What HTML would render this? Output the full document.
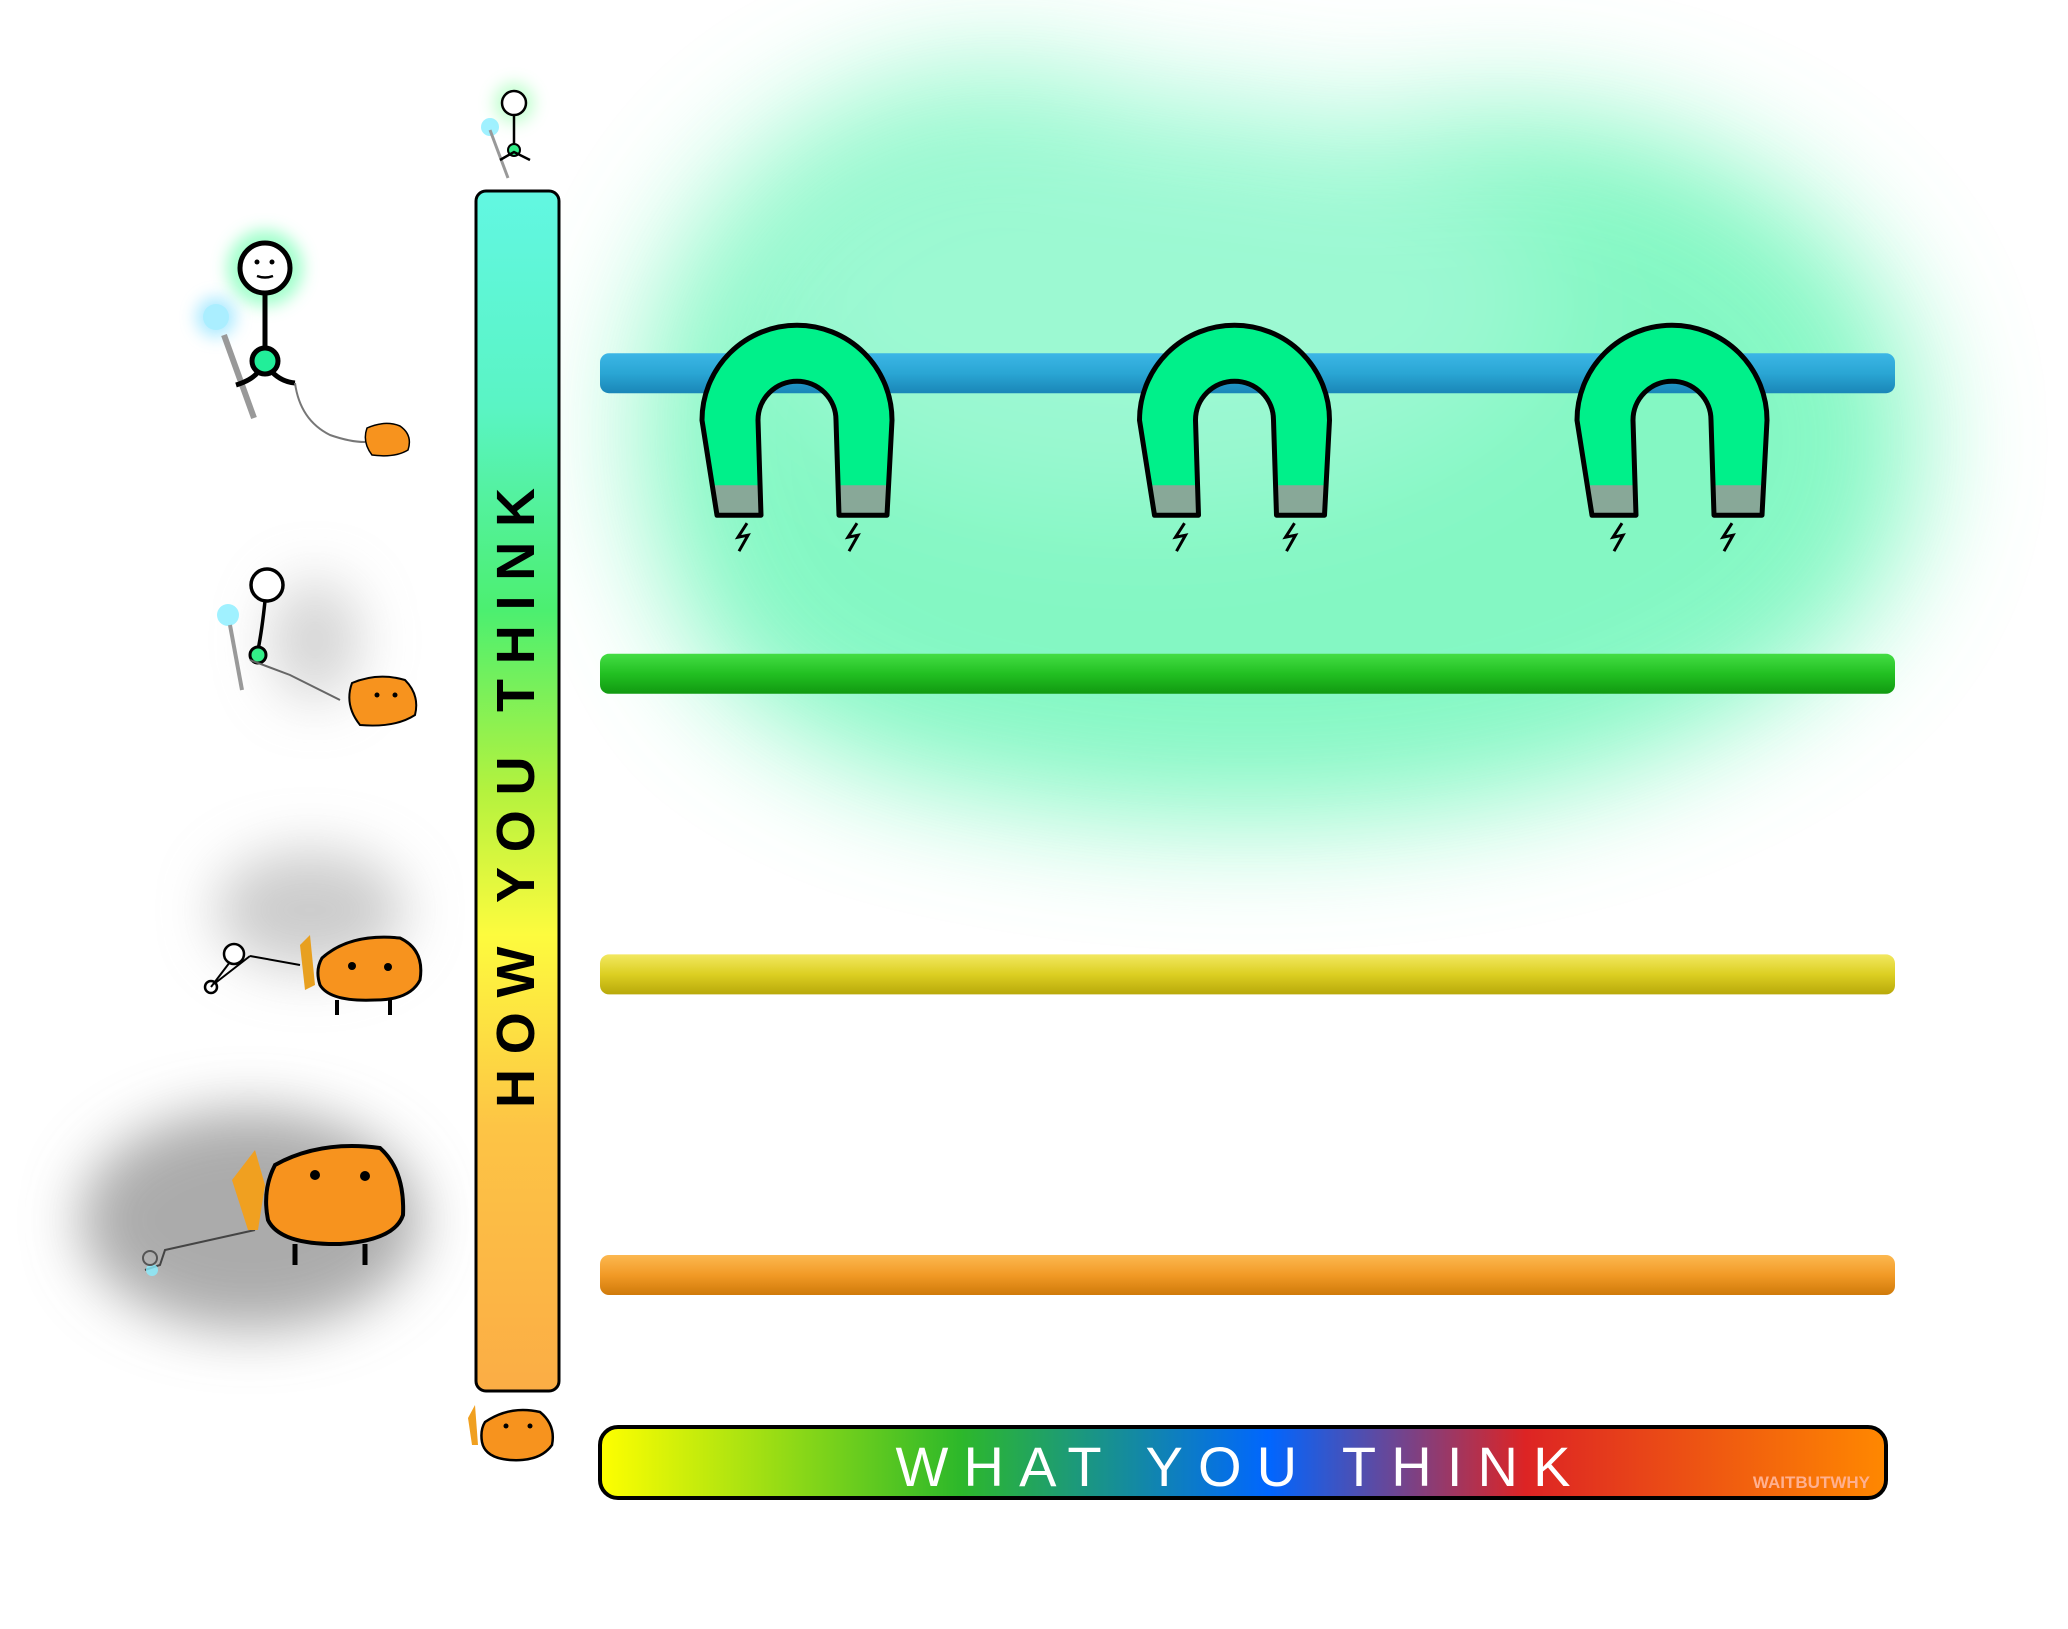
<!DOCTYPE html>
<html><head><meta charset="utf-8">
<style>
html,body{margin:0;padding:0;background:#fff;}
svg{display:block;}
text{font-family:"Liberation Sans",sans-serif;}
</style></head>
<body>
<svg id="chart" width="2068" height="1629" viewBox="0 0 2068 1629" xmlns="http://www.w3.org/2000/svg">
<defs>
  <filter id="blurBig" x="-50%" y="-50%" width="200%" height="200%"><feGaussianBlur stdDeviation="60"/></filter>
  <filter id="blurMid" x="-50%" y="-50%" width="200%" height="200%"><feGaussianBlur stdDeviation="28"/></filter>
  <filter id="blurSm" x="-50%" y="-50%" width="200%" height="200%"><feGaussianBlur stdDeviation="8"/></filter>
  <linearGradient id="vGrad" x1="0" y1="0" x2="0" y2="1">
    <stop offset="0" stop-color="#62f7e2"/>
    <stop offset="0.18" stop-color="#5af4c4"/>
    <stop offset="0.35" stop-color="#4cef70"/>
    <stop offset="0.5" stop-color="#b4f23e"/>
    <stop offset="0.62" stop-color="#fdfb3e"/>
    <stop offset="0.78" stop-color="#fdc445"/>
    <stop offset="1" stop-color="#fbad45"/>
  </linearGradient>
  <linearGradient id="hGrad" x1="0" y1="0" x2="1" y2="0">
    <stop offset="0" stop-color="#ffff00"/>
    <stop offset="0.28" stop-color="#2db82a"/>
    <stop offset="0.52" stop-color="#0066ff"/>
    <stop offset="0.72" stop-color="#dd2424"/>
    <stop offset="1" stop-color="#ff8800"/>
  </linearGradient>
  <linearGradient id="g-blue" x1="0" y1="0" x2="0" y2="1"><stop offset="0" stop-color="#3cb6e6"/><stop offset="0.5" stop-color="#2aa6d4"/><stop offset="1" stop-color="#1a86b8"/></linearGradient>
  <linearGradient id="g-green" x1="0" y1="0" x2="0" y2="1"><stop offset="0" stop-color="#44dd44"/><stop offset="0.5" stop-color="#22c022"/><stop offset="1" stop-color="#119911"/></linearGradient>
  <linearGradient id="g-yellow" x1="0" y1="0" x2="0" y2="1"><stop offset="0" stop-color="#f2e860"/><stop offset="0.5" stop-color="#dccf22"/><stop offset="1" stop-color="#b8a80a"/></linearGradient>
  <linearGradient id="g-orange" x1="0" y1="0" x2="0" y2="1"><stop offset="0" stop-color="#fcb850"/><stop offset="0.5" stop-color="#f29a26"/><stop offset="1" stop-color="#cf7a0a"/></linearGradient>
</defs>

<g id="glow" filter="url(#blurBig)" opacity="0.75">
  <ellipse cx="1000" cy="430" rx="360" ry="360" fill="#5cf5b0"/>
  <ellipse cx="1500" cy="440" rx="420" ry="330" fill="#5cf5b0"/>
  <ellipse cx="1250" cy="600" rx="560" ry="220" fill="#5cf5b0"/>
  <ellipse cx="1150" cy="300" rx="400" ry="200" fill="#7cf7c4"/>
</g>

<g id="characters">
  <g filter="url(#blurMid)">
    <ellipse cx="315" cy="640" rx="45" ry="60" fill="#aaa" opacity="0.5"/>
    <ellipse cx="310" cy="910" rx="95" ry="60" fill="#aaa" opacity="0.6"/>
    <ellipse cx="250" cy="1220" rx="170" ry="110" fill="#888" opacity="0.7"/>
  </g>
  <g>
    <circle cx="514" cy="103" r="20" fill="#6f8" opacity="0.4" filter="url(#blurSm)"/>
    <circle cx="490" cy="127" r="9" fill="#8ef" opacity="0.8"/>
    <line x1="490" y1="130" x2="508" y2="178" stroke="#999" stroke-width="3"/>
    <circle cx="514" cy="103" r="12" fill="#fff" stroke="#000" stroke-width="2.5"/>
    <line x1="514" y1="115" x2="514" y2="148" stroke="#000" stroke-width="2.5"/>
    <circle cx="514" cy="150" r="6" fill="#3e8" stroke="#000" stroke-width="2"/>
    <path d="M500 160 L514 152 L530 160" fill="none" stroke="#000" stroke-width="2.5"/>
  </g>
  <g>
    <circle cx="265" cy="268" r="38" fill="#4f9" opacity="0.5" filter="url(#blurSm)"/>
    <circle cx="216" cy="317" r="20" fill="#7df" opacity="0.6" filter="url(#blurSm)"/>
    <circle cx="216" cy="317" r="13" fill="#aef"/>
    <line x1="224" y1="335" x2="254" y2="418" stroke="#999" stroke-width="6"/>
    <circle cx="265" cy="268" r="25" fill="#fff" stroke="#000" stroke-width="5"/>
    <circle cx="257" cy="262" r="2.5" fill="#000"/><circle cx="272" cy="262" r="2.5" fill="#000"/>
    <path d="M257 276 Q265 279 273 276" stroke="#000" stroke-width="2.5" fill="none"/>
    <line x1="265" y1="293" x2="265" y2="348" stroke="#000" stroke-width="5"/>
    <circle cx="265" cy="361" r="13" fill="#2e9" stroke="#000" stroke-width="5"/>
    <path d="M236 385 Q252 380 258 372 M272 372 Q282 382 295 383" fill="none" stroke="#000" stroke-width="5"/>
    <path d="M295 383 Q300 420 330 435 Q350 442 365 442" fill="none" stroke="#777" stroke-width="2"/>
    <path d="M367 428 Q385 420 400 426 Q413 435 408 450 Q395 458 372 455 Q362 442 367 428 Z" fill="#f7931e" stroke="#000" stroke-width="1.5"/>
  </g>
  <g>
    <circle cx="228" cy="615" r="11" fill="#8ef" opacity="0.8"/>
    <line x1="230" y1="625" x2="242" y2="690" stroke="#999" stroke-width="4"/>
    <circle cx="267" cy="585" r="16" fill="#fff" stroke="#000" stroke-width="3.5"/>
    <path d="M265 601 Q262 630 258 650" stroke="#000" stroke-width="3.5" fill="none"/>
    <circle cx="258" cy="655" r="8" fill="#3e8" stroke="#000" stroke-width="3"/>
    <path d="M250 660 L290 675 Q320 690 340 700" fill="none" stroke="#666" stroke-width="2"/>
    <path d="M352 683 Q378 672 405 680 Q420 695 415 715 Q395 728 360 725 Q344 705 352 683 Z" fill="#f7931e" stroke="#000" stroke-width="2"/>
    <circle cx="377" cy="695" r="2.5" fill="#000"/><circle cx="395" cy="695" r="2.5" fill="#000"/>
  </g>
  <g>
    <circle cx="234" cy="954" r="10" fill="#fff" stroke="#000" stroke-width="2.5"/>
    <circle cx="211" cy="987" r="6" fill="#fff" stroke="#000" stroke-width="2.5"/>
    <path d="M211 987 L230 962 M214 984 L250 956 M250 956 L300 965" fill="none" stroke="#000" stroke-width="2"/>
    <path d="M300 945 L310 935 L315 985 L305 990 Z" fill="#e8a020"/>
    <path d="M322 958 Q350 933 400 938 Q425 950 420 980 Q410 1000 375 1000 Q330 1002 320 985 Q315 970 322 958 Z" fill="#f7931e" stroke="#000" stroke-width="3"/>
    <circle cx="352" cy="966" r="4" fill="#000"/><circle cx="388" cy="967" r="4" fill="#000"/>
    <line x1="337" y1="1000" x2="337" y2="1015" stroke="#000" stroke-width="4"/><line x1="390" y1="1000" x2="390" y2="1015" stroke="#000" stroke-width="4"/>
  </g>
  <g>
    <path d="M145 1270 L160 1265 L165 1250 L255 1230" fill="none" stroke="#444" stroke-width="2"/>
    <circle cx="152" cy="1270" r="6" fill="#8ef" opacity="0.8"/>
    <circle cx="150" cy="1258" r="7" fill="none" stroke="#555" stroke-width="2"/>
    <path d="M232 1180 L255 1150 L265 1185 L258 1230 L248 1230 Z" fill="#f0a020"/>
    <path d="M275 1165 Q320 1140 380 1148 Q405 1170 403 1215 Q395 1240 340 1244 Q280 1245 268 1220 Q262 1190 275 1165 Z" fill="#f7931e" stroke="#000" stroke-width="4"/>
    <circle cx="315" cy="1175" r="5" fill="#000"/><circle cx="365" cy="1176" r="5" fill="#000"/>
    <line x1="295" y1="1244" x2="295" y2="1265" stroke="#000" stroke-width="5"/><line x1="365" y1="1244" x2="365" y2="1265" stroke="#000" stroke-width="5"/>
  </g>
  <g>
    <path d="M468 1418 L475 1405 L478 1445 L472 1445 Z" fill="#f0a020"/>
    <path d="M485 1422 Q510 1405 540 1412 Q556 1425 552 1445 Q540 1462 510 1460 Q485 1458 482 1442 Q480 1430 485 1422 Z" fill="#f7931e" stroke="#000" stroke-width="2.5"/>
    <circle cx="506" cy="1426" r="2.5" fill="#000"/><circle cx="530" cy="1426" r="2.5" fill="#000"/>
  </g>
</g>

<g id="yaxis">
  <rect x="476" y="191" width="83" height="1200" rx="10" fill="url(#vGrad)" stroke="#000" stroke-width="3"/>
  <text transform="translate(534,798) rotate(-90)" text-anchor="middle" font-size="54" font-weight="bold" textLength="620" lengthAdjust="spacing" fill="#000">HOW YOU THINK</text>
</g>

<g id="xaxis">
  <rect x="600" y="1427" width="1286" height="71" rx="18" fill="url(#hGrad)" stroke="#000" stroke-width="4"/>
  <text x="1233" y="1486" text-anchor="middle" font-size="56" textLength="675" lengthAdjust="spacing" fill="#fff">WHAT YOU THINK</text>
  <text x="1870" y="1488" text-anchor="end" font-size="17" font-weight="bold" fill="#ffb090">WAITBUTWHY</text>
</g>

<g id="bars"></g>
<g id="magnets"></g>

<script>
var barNames = ["blue-level", "green-level", "yellow-level", "orange-level"];
var barLevels = [4, 3, 2, 1];
var barFills = ["g-blue", "g-green", "g-yellow", "g-orange"];
var magnetSlots = [1, 2, 3];
var magnetLevel = 4;

var NS = "http://www.w3.org/2000/svg";
function yScale(v){ return 1275 - (v - 1) * 300.6; }
function xScale(s){ return 797 + (s - 1) * 437.5; }

var barsG = document.getElementById("bars");
for (var i = 0; i < barLevels.length; i++) {
  var cy = yScale(barLevels[i]);
  var r = document.createElementNS(NS, "rect");
  r.setAttribute("x", 600); r.setAttribute("y", cy - 20);
  r.setAttribute("width", 1295); r.setAttribute("height", 40);
  r.setAttribute("rx", 9);
  r.setAttribute("fill", "url(#" + barFills[i] + ")");
  
  
  barsG.appendChild(r);
}

var magG = document.getElementById("magnets");
for (var j = 0; j < magnetSlots.length; j++) {
  var cx = xScale(magnetSlots[j]);
  var mtop = yScale(magnetLevel) - 48;
  var g = document.createElementNS(NS, "g");
  
  
  var ay = mtop + 95, by = mtop + 190, gy = mtop + 160;
  var d = "M" + (cx-80) + " " + by + " L" + (cx-95) + " " + ay +
    " A95 95 0 0 1 " + (cx+95) + " " + ay + " L" + (cx+90) + " " + by +
    " L" + (cx+42) + " " + by + " L" + (cx+39) + " " + ay +
    " A39 39 0 0 0 " + (cx-39) + " " + ay + " L" + (cx-36) + " " + by + " Z";
  var p = document.createElementNS(NS, "path");
  p.setAttribute("d", d); p.setAttribute("fill", "#00f08a");
  g.appendChild(p);
  var g1 = document.createElementNS(NS, "path");
  g1.setAttribute("d", "M" + (cx-84) + " " + gy + " L" + (cx-37) + " " + gy + " L" + (cx-36) + " " + by + " L" + (cx-80) + " " + by + " Z");
  g1.setAttribute("fill", "#88a898");
  g.appendChild(g1);
  var g2 = document.createElementNS(NS, "path");
  g2.setAttribute("d", "M" + (cx+41) + " " + gy + " L" + (cx+91) + " " + gy + " L" + (cx+90) + " " + by + " L" + (cx+42) + " " + by + " Z");
  g2.setAttribute("fill", "#88a898");
  g.appendChild(g2);
  var o = document.createElementNS(NS, "path");
  o.setAttribute("d", d); o.setAttribute("fill", "none");
  o.setAttribute("stroke", "#000"); o.setAttribute("stroke-width", "5"); o.setAttribute("stroke-linejoin", "round");
  g.appendChild(o);
  var bx = [cx-54, cx+56];
  for (var k = 0; k < 2; k++) {
    var l = document.createElementNS(NS, "path");
    var x0 = bx[k], y0 = by + 8;
    l.setAttribute("d", "M" + (x0+4) + " " + y0 + " L" + (x0-5) + " " + (y0+14) + " L" + (x0+5) + " " + (y0+12) + " L" + (x0-4) + " " + (y0+28));
    l.setAttribute("fill", "none"); l.setAttribute("stroke", "#000"); l.setAttribute("stroke-width", "3");
    
    
    g.appendChild(l);
  }
  magG.appendChild(g);
}
</script>
</svg>
</body></html>
